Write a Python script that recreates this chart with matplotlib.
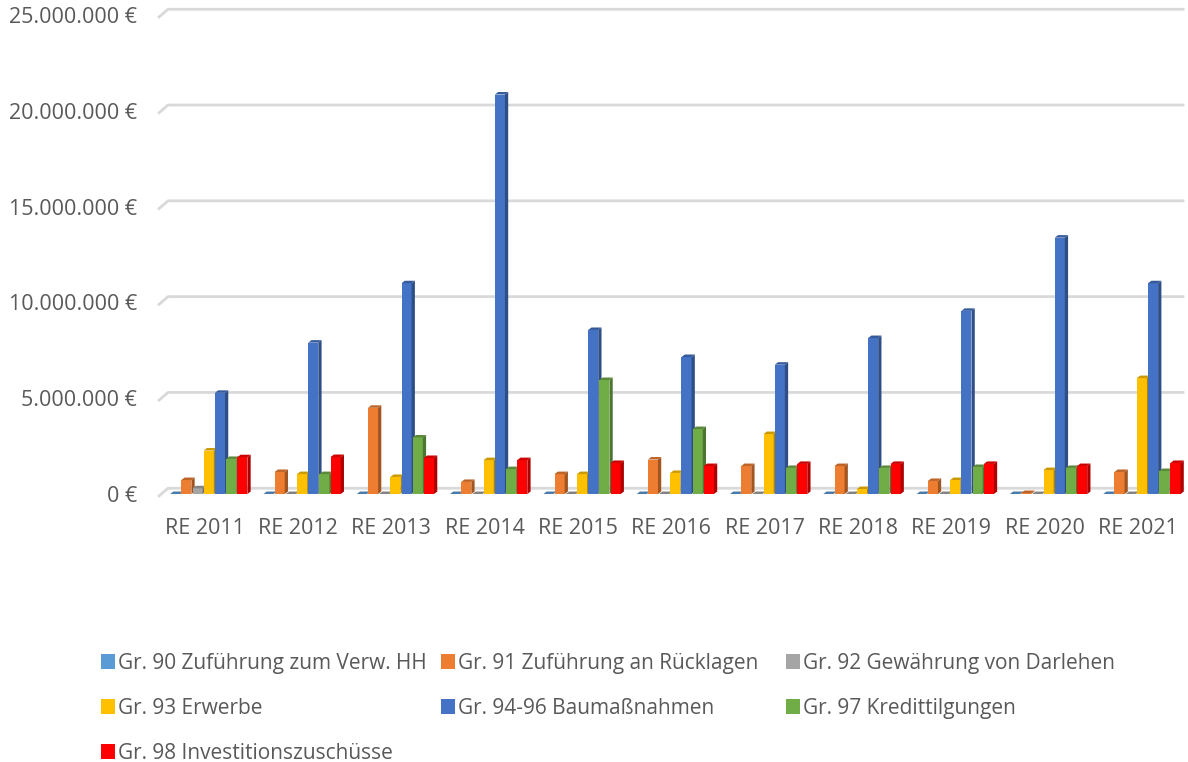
import matplotlib
matplotlib.use("Agg")
import matplotlib.pyplot as plt
from matplotlib.patches import Polygon, Patch
from matplotlib.colors import to_rgb

plt.rcParams['font.family'] = ['Open Sans', 'DejaVu Sans']

years = ['RE 2011', 'RE 2012', 'RE 2013', 'RE 2014', 'RE 2015', 'RE 2016',
         'RE 2017', 'RE 2018', 'RE 2019', 'RE 2020', 'RE 2021']

series_names = ['Gr. 90 Zuführung zum Verw. HH', 'Gr. 91 Zuführung an Rücklagen',
                'Gr. 92 Gewährung von Darlehen', 'Gr. 93 Erwerbe',
                'Gr. 94-96 Baumaßnahmen', 'Gr. 97 Kredittilgungen',
                'Gr. 98 Investitionszuschüsse']
colors = ['#5B9BD5', '#ED7D31', '#A5A5A5', '#FFC000', '#4472C4', '#70AD47', '#FF0000']

# values in euro
gr90 = [0, 0, 0, 0, 0, 0, 0, 0, 0, 0, 0]
gr91 = [730000, 1150000, 4500000, 630000, 1040000, 1800000, 1460000, 1460000, 680000, 50000, 1150000]
gr92 = [300000, 0, 0, 0, 0, 0, 0, 0, 0, 0, 0]
gr93 = [2270000, 1040000, 890000, 1770000, 1040000, 1100000, 3130000, 260000, 730000, 1250000, 6050000]
gr94 = [5280000, 7900000, 11000000, 20850000, 8560000, 7150000, 6750000, 8140000, 9560000, 13380000, 11000000]
gr97 = [1830000, 1040000, 2950000, 1300000, 5950000, 3390000, 1360000, 1360000, 1410000, 1360000, 1200000]
gr98 = [1920000, 1930000, 1880000, 1770000, 1620000, 1460000, 1570000, 1570000, 1570000, 1460000, 1620000]
series = [gr90, gr91, gr92, gr93, gr94, gr97, gr98]

yticks = [0, 5e6, 10e6, 15e6, 20e6, 25e6]


def shade(c, f):
    r, g, b = to_rgb(c)
    return (r * f, g * f, b * f)


def fmt(v):
    return '{:,.0f} €'.format(v).replace(',', '.')


fig = plt.figure(figsize=(11.88, 7.62), dpi=100)
ax = fig.add_axes([0.133, 0.3517, 0.864, 0.6412])
ax.set_xlim(-0.5, 10.5)
ax.set_ylim(0, 25.5e6)
for s in ax.spines.values():
    s.set_visible(False)

# back wall gridlines with a slanted floor edge on the left
gdx, gdy = 0.107, 0.3e6
for v in yticks:
    ax.plot([-0.5, -0.5 + gdx, 10.5], [v - 0.15e6, v + gdy, v + gdy],
            color='#D9D9D9', lw=2, zorder=0, clip_on=False, solid_capstyle='butt')

step = 0.12
w = 0.108
dx, dy = 0.035, 0.13e6
shift = 0.05
for i in range(len(years)):
    for j, vals in enumerate(series):
        v = vals[i]
        x0 = i - 3.5 * step + j * step + shift
        c = colors[j]
        z = 2 + i * 10 + j
        ax.bar(x0, v, width=w, align='edge', color=c, zorder=z)
        side = [(x0 + w, 0), (x0 + w + dx, dy), (x0 + w + dx, v + dy), (x0 + w, v)]
        top = [(x0, v), (x0 + dx, v + dy), (x0 + w + dx, v + dy), (x0 + w, v)]
        ax.add_patch(Polygon(side, closed=True, color=shade(c, 0.68), lw=0, zorder=z))
        ax.add_patch(Polygon(top, closed=True, color=shade(c, 0.8), lw=0, zorder=z))

ax.set_yticks(yticks)
ax.set_yticklabels([fmt(v) for v in yticks])
ax.set_xticks(range(len(years)))
ax.set_xticklabels(years)
ax.tick_params(axis='y', length=0, pad=15, labelsize=15.5, labelcolor='#595959')
ax.tick_params(axis='x', length=0, pad=17, labelsize=15.5, labelcolor='#595959')

# legend in three equal-width columns, filled row by row
handles = [Patch(facecolor=c, edgecolor='none') for c in colors]
columns = [[0, 3, 6], [1, 4], [2, 5]]
col_x = [101 / 1188, 441 / 1188, 786 / 1188]
for cx, idx in zip(col_x, columns):
    leg = fig.legend([handles[k] for k in idx], [series_names[k] for k in idx],
                     loc='upper left', bbox_to_anchor=(cx, 0.143),
                     frameon=False, fontsize=15, labelcolor='#595959',
                     borderpad=0, borderaxespad=0,
                     handlelength=0.66, handleheight=0.72, handletextpad=0.14,
                     labelspacing=1.15)

fig.savefig('out.png', dpi=100)
